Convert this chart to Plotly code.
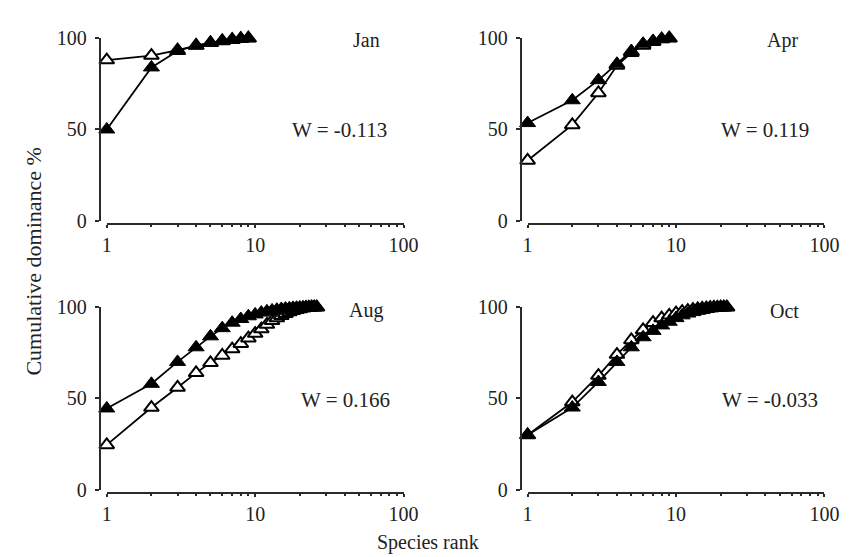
import plotly.graph_objects as go

# species rank per sampling month
rank_jan = list(range(1, 10))
rank_apr = list(range(1, 10))
rank_aug = list(range(1, 27))
rank_oct = list(range(1, 23))

# cumulative dominance % - biomass (filled) and abundance (open)
biomass_jan = [50, 84, 93, 96, 97.5, 98.5, 99.2, 99.7, 100]
abundance_jan = [88, 90.5, 93.5, 96, 97.5, 98.5, 99.2, 99.7, 100]

biomass_apr = [53.5, 66, 77, 86, 93, 97, 98.5, 99.5, 100]
abundance_apr = [33, 52.5, 70, 85, 92, 96, 98, 99.5, 100]

biomass_aug = [44.5, 58, 70, 78, 84, 88.5, 91.5, 93.5, 95, 96, 97, 97.7, 98.2,
               98.6, 99, 99.2, 99.4, 99.6, 99.7, 99.8, 99.85, 99.9, 99.95, 100, 100, 100]
abundance_aug = [24.5, 45, 56, 64, 69.5, 73.5, 77, 80, 83, 85.5, 88, 90.5, 92.5,
                 94, 95.3, 96.4, 97.3, 98, 98.6, 99, 99.4, 99.7, 99.85, 99.95, 100, 100]

biomass_oct = [30, 45, 59, 70, 78, 83.5, 87, 90, 92, 94, 95.5, 96.5, 97.3, 98,
               98.5, 99, 99.3, 99.6, 99.8, 99.9, 100, 100]
abundance_oct = [30, 48, 62.5, 74, 82, 87.5, 91.5, 94, 95.5, 96.7, 97.5, 98.1,
                 98.6, 99, 99.3, 99.5, 99.7, 99.8, 99.9, 100, 100, 100]

months = ['Jan', 'Apr', 'Aug', 'Oct']
w_labels = ['W = -0.113', 'W = 0.119', 'W = 0.166', 'W = -0.033']
ranks = [rank_jan, rank_apr, rank_aug, rank_oct]
biomass = [biomass_jan, biomass_apr, biomass_aug, biomass_oct]
abundance = [abundance_jan, abundance_apr, abundance_aug, abundance_oct]

W, H = 850, 557
FONT = 'Liberation Serif'
AXCOL = '#2a2a2a'

# panel geometry in pixels: (x of rank 1, x of rank 100, y of 100 %, y of 0 %)
panels = [(96, 400, 20, 210), (527, 831, 20, 210),
          (96, 400, 300, 490), (527, 831, 300, 490)]
month_pos = [(362, 22), (788, 22), (361, 304), (790, 304)]
w_pos = [(334, 116), (770, 116), (340, 397), (775, 397)]

minor_vals = [2, 3, 4, 5, 6, 7, 8, 9, 20, 30, 40, 50, 60, 70, 80, 90]

fig = go.Figure()
layout = {}
annotations = []


def label(text, px, py, angle=0, size=20):
    return dict(text=text, x=px / W, y=1 - py / H, xref='paper', yref='paper',
                xanchor='center', yanchor='middle', showarrow=False, textangle=angle,
                font=dict(family=FONT, size=size, color='#222'))


for i in range(4):
    n = '' if i == 0 else str(i + 1)
    x0, x1, ytop, ybot = panels[i]
    fig.add_trace(go.Scatter(
        x=ranks[i], y=abundance[i], mode='lines+markers', xaxis='x' + n, yaxis='y' + n,
        line=dict(color='black', width=1.8),
        marker=dict(symbol='triangle-up', size=13, color='white',
                    line=dict(color='black', width=2)),
        cliponaxis=False, showlegend=False))
    fig.add_trace(go.Scatter(
        x=ranks[i], y=biomass[i], mode='lines+markers', xaxis='x' + n, yaxis='y' + n,
        line=dict(color='black', width=1.8),
        marker=dict(symbol='triangle-up', size=14, color='black',
                    line=dict(color='black', width=1)),
        cliponaxis=False, showlegend=False))

    layout['xaxis' + n] = dict(
        type='log', range=[0, 2], domain=[x0 / W, x1 / W],
        anchor='free', position=1 - (ybot + 3) / H,
        showline=True, linecolor=AXCOL, linewidth=2.2, showgrid=False, zeroline=False,
        tickvals=[1, 10, 100], ticktext=['1', '10', '100'],
        ticks='outside', ticklen=3, tickwidth=2, tickcolor=AXCOL,
        minor=dict(tickvals=minor_vals, ticks='outside', ticklen=2,
                   tickwidth=1.5, tickcolor=AXCOL, showgrid=False),
        tickfont=dict(family=FONT, size=20, color='#222'))
    layout['yaxis' + n] = dict(
        range=[0, 100], domain=[1 - ybot / H, 1 - ytop / H],
        anchor='free', position=(x0 - 7) / W,
        showline=True, linecolor=AXCOL, linewidth=2.2, showgrid=False, zeroline=False,
        tickvals=[0, 50, 100], ticks='outside', ticklen=4, tickwidth=2, tickcolor=AXCOL,
        ticklabelstandoff=4,
        tickfont=dict(family=FONT, size=20, color='#222'))

    annotations.append(label(months[i], *month_pos[i]))
    annotations.append(label(w_labels[i], *w_pos[i], size=21))

annotations.append(label('Cumulative dominance %', 21, 252, angle=-90, size=22))
annotations.append(label('Species rank', 425, 545))

fig.update_layout(
    width=W, height=H,
    margin=dict(l=0, r=0, t=0, b=0),
    plot_bgcolor='white', paper_bgcolor='white',
    annotations=annotations,
    **layout
)

fig.write_html("out.html")
